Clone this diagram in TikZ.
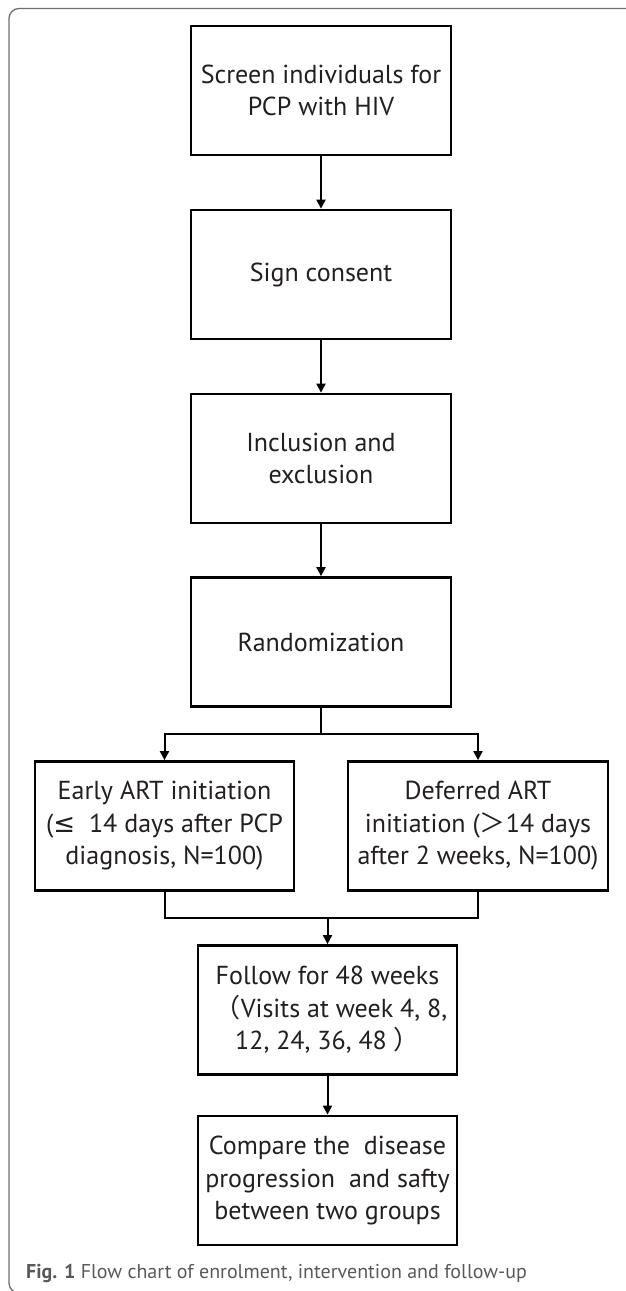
\documentclass[tikz,border=0pt]{standalone}
\usepackage{fontspec}
\setmainfont{PT Sans}
\newfontfamily\cjkf{Noto Sans CJK SC}
\newfontfamily\djv{DejaVu Sans}
\usetikzlibrary{arrows.meta}
\definecolor{txt}{HTML}{231F20}
\definecolor{framec}{HTML}{6D6E70}
\definecolor{capc}{HTML}{58595B}
\begin{document}
\begin{tikzpicture}[x=1pt,y=-1pt,
  box/.style={draw=black, line width=2.8pt, minimum width=260pt, minimum height=129pt,
    align=center, font=\fontsize{26}{32.5}\selectfont, text=txt, inner sep=0pt},
  link/.style={line width=2pt},
  conn/.style={line width=2pt, -{Triangle[length=9pt,width=9pt]}}
]
\useasboundingbox (0,0) rectangle (625,1291);
\draw[framec, line width=1.3pt, rounded corners=10pt] (640,8.5) -- (9,8.5) -- (9,1293) -- (640,1293);

\node[box] (b1) at (321,90.5) {Screen individuals for\\PCP with HIV};
\node[box] (b2) at (321,274.5) {Sign consent};
\node[box] (b3) at (321,458.5) {Inclusion and\\exclusion};
\node[box] (b4) at (321,642) {Randomization};
\node[box, minimum width=259pt] (L) at (164.5,826) {Early ART initiation\\({\djv ≤}\ \ 14 days after PCP\\diagnosis, N=100)};
\node[box] (R) at (478,826) {Deferred ART\\initiation ({\cjkf ＞}14 days\\after 2 weeks, N=100)};
\node[box, minimum width=259pt] (F) at (327.5,1010) {Follow for 48 weeks\\\ {\cjkf （}Visits at week 4, 8,\\12, 24, 36, 48 {\cjkf ）}};
\node[box, minimum width=259pt] (C) at (327.5,1180.5) {Compare the\ \ disease\\progression\ \ and safty\\between two groups};

\draw[conn] (b1) -- (b2);
\draw[conn] (b2) -- (b3);
\draw[conn] (b3) -- (b4);

\coordinate (sp) at (321,734);
\draw[link] (b4.south) -- (sp);
\draw[conn] (sp) -| (L.north);
\draw[conn] (sp) -| (R.north);

\coordinate (mg) at (327.5,918);
\draw[link] (L.south) |- (mg);
\draw[link] (R.south) |- (mg);
\draw[conn] (mg) -- (F.north);
\draw[conn] (F) -- (C);

\node[anchor=base west, inner sep=0pt, text=capc, font=\fontsize{20}{24}\selectfont] (cap) at (26,1278)
  {\textbf{Fig. 1} Flow chart of enrolment, intervention and follow-up};
\end{tikzpicture}
\end{document}
